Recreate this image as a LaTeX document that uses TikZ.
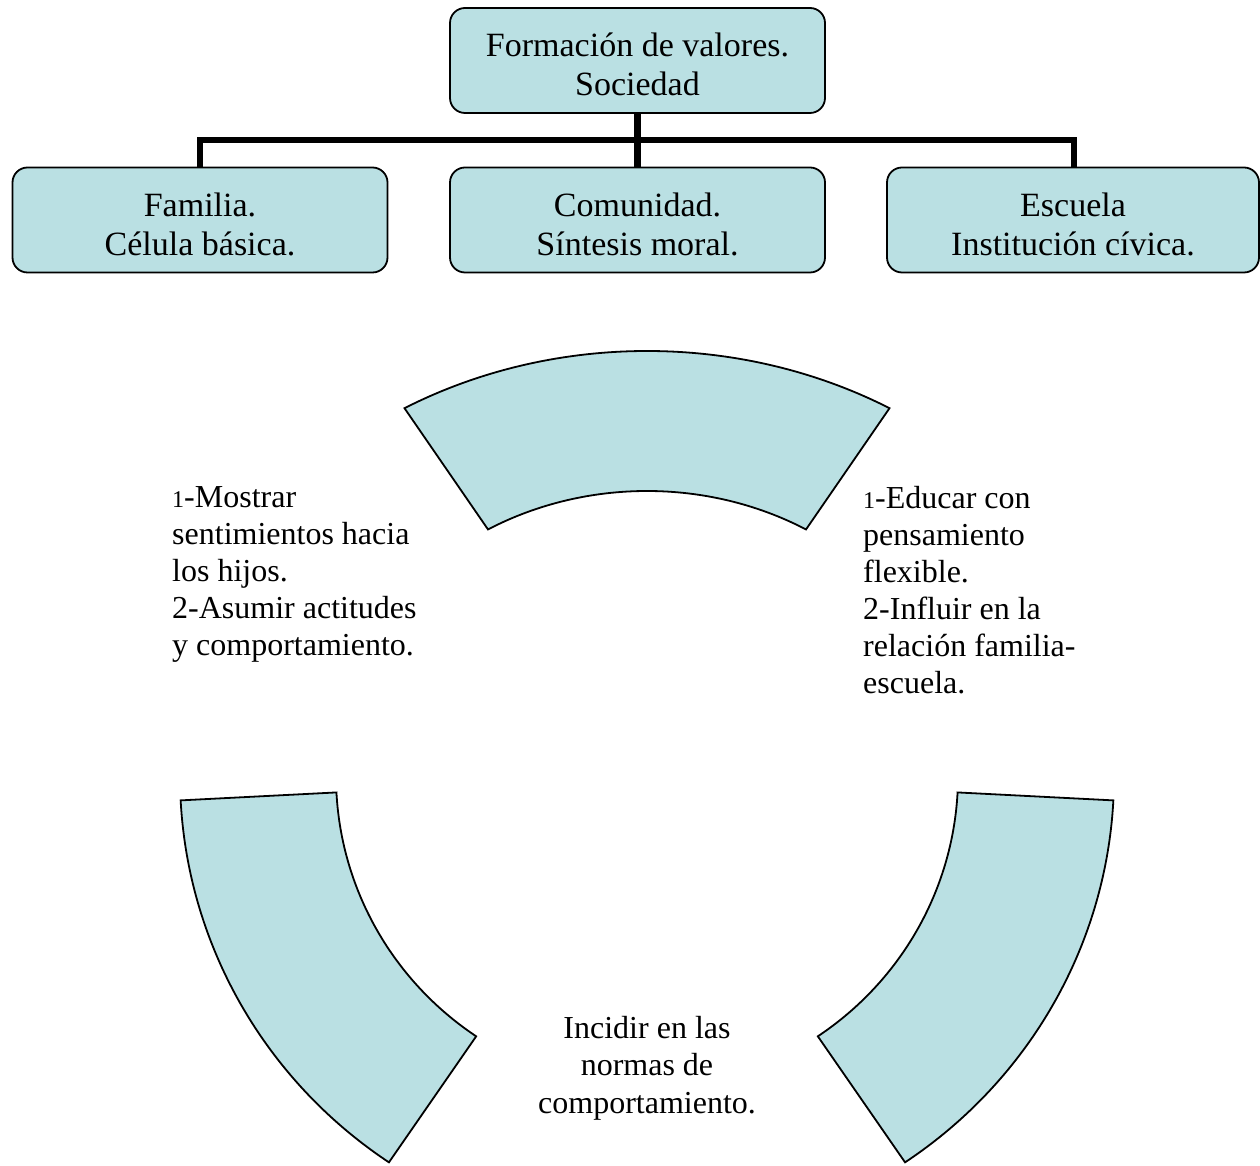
\documentclass[tikz,border=0pt]{standalone}
\usepackage{fontspec}
\setmainfont{Liberation Serif}
\usetikzlibrary{calc}
\definecolor{segfill}{RGB}{186,224,227}
\begin{document}
\begin{tikzpicture}[x=1pt,y=1pt,
  box/.style={draw=black, line width=1.8pt, fill=segfill, rounded corners=15pt,
    minimum width=375pt, minimum height=105pt, inner sep=0pt},
  boxtxt/.style={inner sep=0pt, align=center, yshift=-4pt,
    font=\fontsize{34}{39}\selectfont},
  seg/.style={draw=black, line width=1.8pt, fill=segfill, line join=miter},
  conn/.style={line width=6.5pt, line join=miter},
  side/.style={anchor=base west, inner sep=0pt, font=\fontsize{32}{37}\selectfont},
]
\useasboundingbox (0,0) rectangle (1260,1165);

% connectors first (behind boxes)
\coordinate (topS) at (637.5,1052);
\coordinate (famN) at (200,998);
\coordinate (comN) at (637.5,998);
\coordinate (escN) at (1074,998);
\draw[conn] (famN) -- ++(0,27) -| (escN);
\draw[conn] (topS) -- (comN);

% boxes
\node[box] (top) at (637.5,1104.5) {};
\node[box] (fam) at (200,945) {};
\node[box] (com) at (637.5,945) {};
\node[box, minimum width=372pt] (esc) at (1073,945) {};
\node[boxtxt] (toptxt) at (top.center) {Formación de valores.\\Sociedad};
\node[boxtxt] (famtxt) at (fam.center) {Familia.\\Célula básica.};
\node[boxtxt] (comtxt) at (com.center) {Comunidad.\\Síntesis moral.};
\node[boxtxt] (esctxt) at (esc.center) {Escuela\\Institución cívica.};

% ring segments
\coordinate (c1) at (647,387);
\coordinate (c2) at (654,389);
\coordinate (c3) at (640,389);
\draw[seg] ($(c1)+(60:485pt and 427pt)$)
  arc[start angle=60, end angle=120, x radius=485pt, y radius=427pt]
  -- ($(c1)+(120:318pt and 287pt)$)
  arc[start angle=120, end angle=60, x radius=318pt, y radius=287pt] -- cycle;
\draw[seg] ($(c2)+(183:474pt and 466pt)$)
  arc[start angle=183, end angle=236, x radius=474pt, y radius=466pt]
  -- ($(c2)+(236:318pt and 314pt)$)
  arc[start angle=236, end angle=183, x radius=318pt, y radius=314pt] -- cycle;
\draw[seg] ($(c3)+(304:474pt and 466pt)$)
  arc[start angle=304, end angle=357, x radius=474pt, y radius=466pt]
  -- ($(c3)+(357:318pt and 314pt)$)
  arc[start angle=357, end angle=304, x radius=318pt, y radius=314pt] -- cycle;

% texts
\node[side] (ltxt) at (172,657) {\begin{tabular}[t]{@{}l@{}}{\fontsize{24}{37}\selectfont 1}-Mostrar\\ sentimientos hacia\\ los hijos.\\ 2-Asumir actitudes\\ y comportamiento.\end{tabular}};
\node[side] (rtxt) at (863,656) {\begin{tabular}[t]{@{}l@{}}{\fontsize{24}{37}\selectfont 1}-Educar con\\ pensamiento\\ flexible.\\ 2-Influir en la\\ relación familia-\\ escuela.\end{tabular}};
\node[side, anchor=base, font=\fontsize{32}{37.5}\selectfont] (btxt) at (647,127) {\begin{tabular}[t]{@{}c@{}}Incidir en las\\ normas de\\ comportamiento.\end{tabular}};
\end{tikzpicture}
\end{document}
